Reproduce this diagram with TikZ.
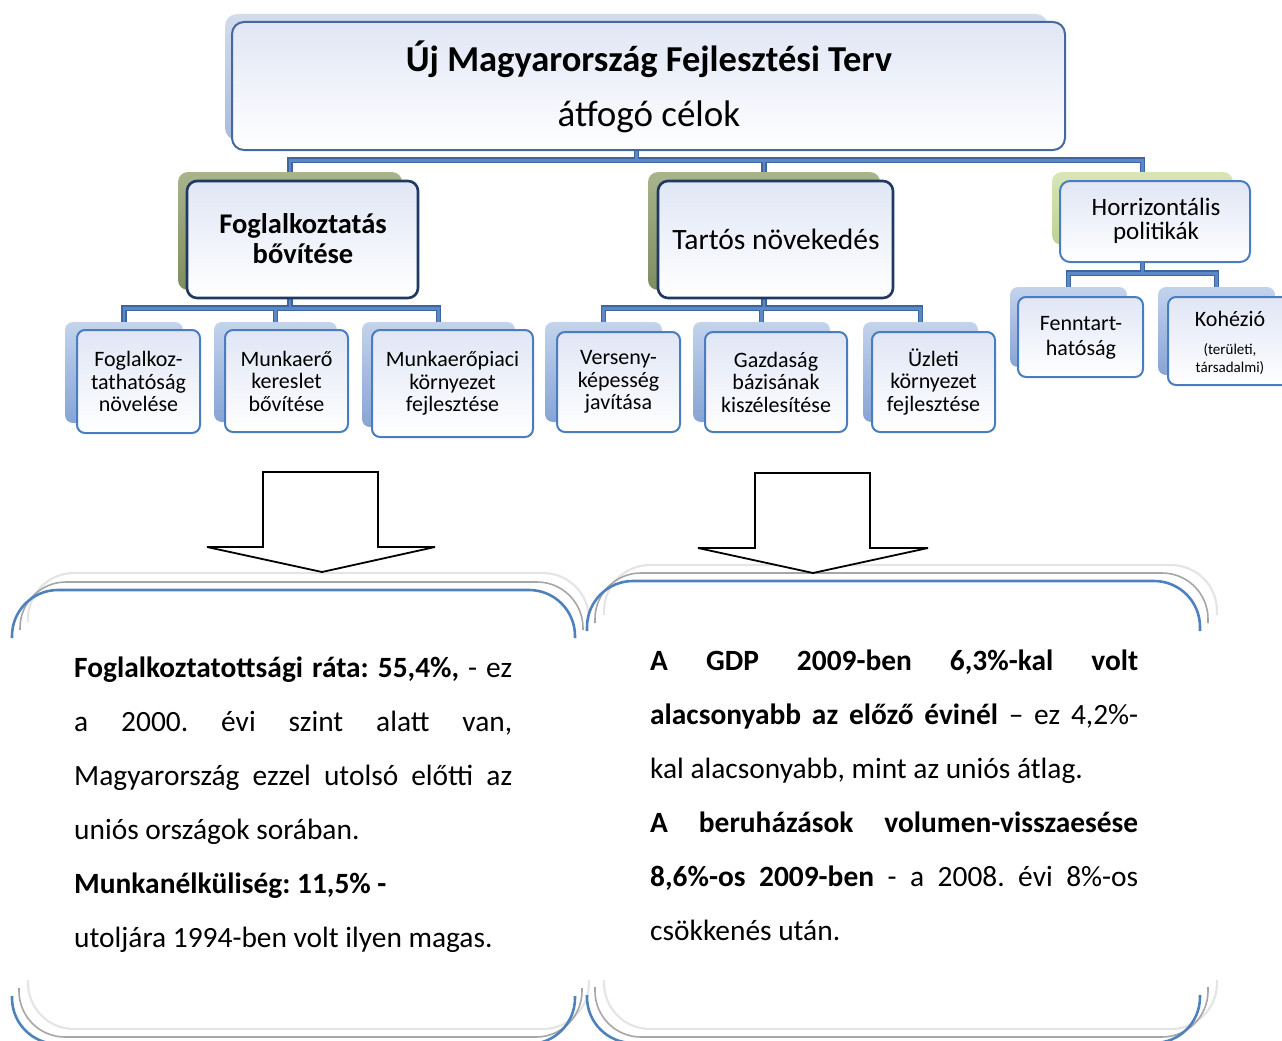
\documentclass[tikz,border=0pt]{standalone}
\usepackage{fontspec}
\setmainfont{Carlito}
\usetikzlibrary{fit}
\pgfdeclarelayer{bg}
\pgfsetlayers{bg,main}
\definecolor{cdark}{HTML}{3F659E}
\definecolor{clight}{HTML}{5B88C6}
\definecolor{smallb}{HTML}{4A7DC0}
\definecolor{navyb}{HTML}{1F3864}
\definecolor{topb}{HTML}{46689E}
\definecolor{fronttop}{HTML}{E0E6F5}
\definecolor{shbluetop}{HTML}{C3D3EC}
\definecolor{shbluebot}{HTML}{86A4D4}
\definecolor{olivetop}{HTML}{A9B48A}
\definecolor{olivebot}{HTML}{7E8D60}
\definecolor{greentop}{HTML}{D8E6B6}
\definecolor{greenbot}{HTML}{BDD293}
\definecolor{shtoptop}{HTML}{D3DCEC}
\definecolor{shtopbot}{HTML}{A9BBD8}
\definecolor{panelblue}{HTML}{4F81BD}
\frenchspacing
\newcommand\drawconnectors[1]{%
  \draw[#1] (sT.south) -- ++(0,20) -| (sF.north);
  \draw[#1] (sT.south) -- ++(0,20) -| (sG.north);
  \draw[#1] (sT.south) -- ++(0,20) -| (sH.north);
  \draw[#1] (sF.south) -- ++(0,18) -| (sF1.north);
  \draw[#1] (sF.south) -- ++(0,18) -| (sF2.north);
  \draw[#1] (sF.south) -- ++(0,18) -| (sF3.north);
  \draw[#1] (sG.south) -- ++(0,18) -| (sG1.north);
  \draw[#1] (sG.south) -- ++(0,18) -| (sG2.north);
  \draw[#1] (sG.south) -- ++(0,18) -| (sG3.north);
  \draw[#1] (sH.south) -- ++(0,28) -| (sK1.north);
  \draw[#1] (sH.south) -- ++(0,28) -| (sK2.north);
}
\begin{document}
\begin{tikzpicture}[x=1pt,y=-1pt,
  connout/.style={draw=cdark,line width=5.5pt},
  connin/.style={draw=clight,line width=2.8pt},
  shsmall/.style={inner sep=0pt,rounded corners=8pt,top color=shbluetop,bottom color=shbluebot},
  frsmall/.style={inner sep=0pt,draw=smallb,line width=2pt,rounded corners=8pt,top color=fronttop,bottom color=white},
  shmid/.style={inner sep=0pt,rounded corners=10pt,top color=olivetop,bottom color=olivebot},
  shgreen/.style={inner sep=0pt,rounded corners=10pt,top color=greentop,bottom color=greenbot},
  frmid/.style={inner sep=0pt,draw=navyb,line width=2.6pt,rounded corners=10pt,top color=fronttop,bottom color=white},
  frright/.style={inner sep=0pt,draw=smallb,line width=2pt,rounded corners=10pt,top color=fronttop,bottom color=white},
  shtop/.style={inner sep=0pt,rounded corners=12pt,top color=shtoptop,bottom color=shtopbot},
  frtop/.style={inner sep=0pt,draw=topb,line width=2pt,rounded corners=12pt,top color=fronttop,bottom color=white},
  txt/.style={inner sep=0pt,align=center,anchor=center},
  stxt/.style={txt,font=\fontsize{22}{22.5}\selectfont},
  blockarrow/.style={draw=black,line width=1.8pt,fill=white,line join=miter,miter limit=1.5},
  pblue/.style={draw=panelblue,line width=2.6pt,rounded corners=46pt},
  pgray/.style={draw=black!35,line width=1.6pt,rounded corners=46pt},
  pfaint/.style={draw=black!10,line width=2.2pt,rounded corners=46pt},
  body/.style={inner sep=0pt,anchor=base west,font=\fontsize{29.4}{34}\selectfont}
]
\useasboundingbox (0,0) rectangle (1282,1041);

% ---- panels ----
\draw[pfaint] (28,622) -- (28,573) -- (589,573) -- (589,620);
\draw[pgray] (20,630) -- (20,582) -- (583,582) -- (583,630);
\draw[pblue] (12,638) -- (12,590) -- (575,590) -- (575,638);
\draw[pfaint] (28,980) -- (28,1029) -- (589,1029) -- (589,980);
\draw[pgray] (19,988) -- (19,1037) -- (582,1037) -- (582,988);
\draw[pblue] (12,996) -- (12,1044) -- (575,1044) -- (575,996);

\draw[pfaint] (604,615) -- (604,565) -- (1217,565) -- (1217,615);
\draw[pgray] (595,623) -- (595,573) -- (1208,573) -- (1208,623);
\draw[pblue] (587,631) -- (587,581) -- (1200,581) -- (1200,631);
\draw[pfaint] (604,980) -- (604,1029) -- (1217,1029) -- (1217,980);
\draw[pgray] (595,987) -- (595,1037) -- (1208,1037) -- (1208,987);
\draw[pblue] (587,995) -- (587,1043) -- (1200,1043) -- (1200,995);

% ---- block arrows ----
\draw[blockarrow] (263,472) -- (378,472) -- (378,547) -- (435,547) -- (322,572) -- (207,547) -- (263,547) -- cycle;
\draw[blockarrow] (755,473) -- (870,473) -- (870,548) -- (928,548) -- (813,573) -- (698,548) -- (755,548) -- cycle;

% ---- top box ----
\node[shtop, fit={(225,14) (1048,140)}] (sT) {};
\node[frtop, fit={(232,22) (1065,150)}] (T) {};
\node[txt, font=\fontsize{37}{55}\selectfont] (Tt) at (649,87) {{\bfseries\fontsize{36.5}{44}\selectfont Új Magyarország Fejlesztési Terv}\\ átfogó célok};

% ---- level 2 ----
\node[shmid, fit={(178,172) (402,290)}] (sF) {};
\node[frmid, fit={(187,181) (418,298)}] (F) {};
\node[txt, font=\bfseries\fontsize{28.5}{30}\selectfont] (Ft) at (303,239) {Foglalkoztatás\\bővítése};
\node[shmid, fit={(648,172) (880,290)}] (sG) {};
\node[frmid, fit={(658,181) (893,298)}] (G) {};
\node[txt, font=\fontsize{29.5}{30}\selectfont] (Gt) at (776,239) {Tartós növekedés};
\node[shgreen, fit={(1052,172) (1233,245)}] (sH) {};
\node[frright, fit={(1060,181) (1250,262)}] (H) {};
\node[txt, font=\fontsize{25}{24}\selectfont] (Ht) at (1156,221) {Horrizontális\\politikák};

% ---- level 3 ----
\node[shsmall, fit={(65,322) (183,423)}] (sF1) {};
\node[frsmall, fit={(77,330) (200,433)}] (F1) {};
\node[stxt] (F1t) at (F1.center) {Foglalkoz-\\tathatóság\\növelése};
\node[shsmall, fit={(214,322) (337,422)}] (sF2) {};
\node[frsmall, fit={(225,330) (348,432)}] (F2) {};
\node[stxt] (F2t) at (F2.center) {Munkaerő\\kereslet\\bővítése};
\node[shsmall, fit={(362,322) (515,427)}] (sF3) {};
\node[frsmall, fit={(372,330) (533,437)}] (F3) {};
\node[stxt] (F3t) at (F3.center) {Munkaerőpiaci\\környezet\\fejlesztése};

\node[shsmall, fit={(545,322) (662,422)}] (sG1) {};
\node[frsmall, fit={(557,332) (680,432)}] (G1) {};
\node[stxt] (G1t) at (G1.center) {Verseny-\\képesség\\javítása};
\node[shsmall, fit={(693,322) (830,422)}] (sG2) {};
\node[frsmall, fit={(705,332) (847,432)}] (G2) {};
\node[stxt] (G2t) at (G2.center) {Gazdaság\\bázisának\\kiszélesítése};
\node[shsmall, fit={(863,322) (978,422)}] (sG3) {};
\node[frsmall, fit={(872,332) (995,432)}] (G3) {};
\node[stxt] (G3t) at (G3.center) {Üzleti\\környezet\\fejlesztése};

\node[shsmall, fit={(1010,287) (1127,367)}] (sK1) {};
\node[frsmall, fit={(1018,297) (1143,377)}] (K1) {};
\node[txt, font=\fontsize{22}{25}\selectfont] (K1t) at (1081,338) {Fenntart-\\hatóság};
\node[shsmall, fit={(1158,287) (1275,375)}] (sK2) {};
\node[frsmall, fit={(1168,297) (1292,385)}] (K2) {};
\node[txt, font=\fontsize{15}{18}\selectfont] (K2t) at (1230,343) {{\fontsize{22}{22}\selectfont Kohézió}\\[10pt](területi,\\társadalmi)};

\begin{pgfonlayer}{bg}
  \drawconnectors{connout}
  \drawconnectors{connin}
\end{pgfonlayer}

% ---- left text ----
\node[body] (L1) at (74,677) {\makebox[438pt][s]{\textbf{Foglalkoztatottsági ráta: 55,4\%,} - ez}};
\node[body] (L2) at (74,731) {\makebox[438pt][s]{a 2000. évi szint alatt van,}};
\node[body] (L3) at (74,785) {\makebox[438pt][s]{Magyarország ezzel utolsó előtti az}};
\node[body] (L4) at (74,839) {uniós országok sorában.};
\node[body] (L5) at (74,893) {\textbf{Munkanélküliség: 11,5\% -}};
\node[body] (L6) at (74,947) {utoljára 1994-ben volt ilyen magas.};

% ---- right text ----
\node[body] (R1) at (650,670) {\makebox[488pt][s]{\textbf{A GDP 2009-ben 6,3\%-kal volt}}};
\node[body] (R2) at (650,724) {\makebox[488pt][s]{\textbf{alacsonyabb az előző évinél} – ez 4,2\%-}};
\node[body] (R3) at (650,778) {kal alacsonyabb, mint az uniós átlag.};
\node[body] (R4) at (650,832) {\makebox[488pt][s]{\textbf{A beruházások volumen-visszaesése}}};
\node[body] (R5) at (650,886) {\makebox[488pt][s]{\textbf{8,6\%-os 2009-ben} - a 2008. évi 8\%-os}};
\node[body] (R6) at (650,940) {csökkenés után.};
\end{tikzpicture}
\end{document}
